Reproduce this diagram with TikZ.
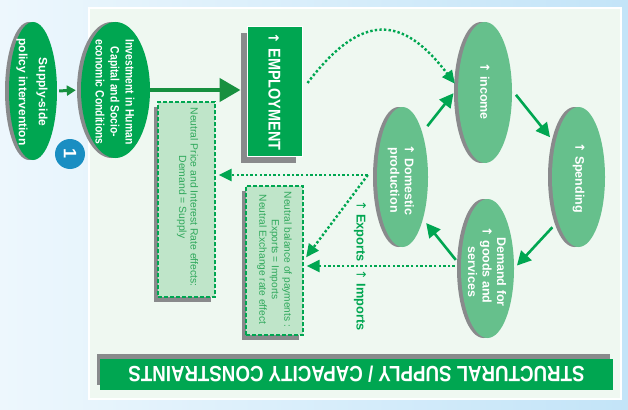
\documentclass[tikz,border=0pt]{standalone}
\usepackage{fontspec}
\setmainfont{Liberation Sans}
\newfontfamily\condfont[FakeStretch=0.85]{Liberation Sans}
\newfontfamily\arrowfont{DejaVu Sans}
\newcommand\uparr{{\arrowfont ↑}}
\usetikzlibrary{arrows.meta,shapes.geometric,shadows}

\definecolor{skyleft}{HTML}{EDF7FD}
\definecolor{skyright}{HTML}{C3E4F8}
\definecolor{panelfill}{HTML}{EFF8F1}
\definecolor{leafgreen}{HTML}{00A651}
\definecolor{deepgreen}{HTML}{17903F}
\definecolor{softgreen}{HTML}{66C08C}
\definecolor{boxfill}{HTML}{BFE5C9}
\definecolor{boxtext}{HTML}{30A85C}
\definecolor{shadowgray}{HTML}{898A8C}
\definecolor{badgeblue}{HTML}{1A8EC2}

\begin{document}
\begin{tikzpicture}[x=1pt,y=-1pt,
  gray shadow/.style 2 args={drop shadow={shadow xshift=#1, shadow yshift=#2, fill=shadowgray, opacity=1}},
  oval/.style={ellipse, inner sep=0pt, gray shadow={-4pt}{0pt}},
  darkoval/.style={oval, fill=leafgreen},
  softoval/.style={oval, fill=softgreen},
  ovaltext/.style={rotate=-90, align=center, text=white, inner sep=0pt, font=\bfseries\fontsize{12.5}{14.5}\selectfont},
  dashbox/.style={rectangle, inner sep=0pt, fill=boxfill, draw=leafgreen, line width=1.4pt, dash pattern=on 4pt off 2pt},
  boxtextstyle/.style={rotate=-90, align=center, text=boxtext, inner sep=0pt},
  solidarrow/.style={leafgreen, line width=2.6pt, -{Triangle[length=14pt,width=14pt]}},
  dotarrow/.style={leafgreen, line width=2.4pt, dash pattern=on 2.4pt off 2.2pt, -{Triangle[length=13pt,width=12pt]}},
  flowlabel/.style={rotate=-90, text=leafgreen, inner sep=0pt, font=\bfseries\fontsize{12.8}{14}\selectfont}
]
\useasboundingbox (0,0) rectangle (628,409);

% backdrop and inner panel
\shade[left color=skyleft, right color=skyright] (0,0) rectangle (628,409);
\fill[panelfill] (89,8) rectangle (621,399);
\draw[white, line width=1.2pt] (89,8) rectangle (621,399);

% bottom banner, its caption set upside down
\node[rectangle, inner sep=0pt, fill=leafgreen, minimum width=513pt, minimum height=31.5pt, gray shadow={-3pt}{5pt}, text=white, font=\condfont\bfseries\fontsize{22}{22}\selectfont] (banner) at (356.5,374.25) {\rotatebox{180}{STRUCTURAL SUPPLY / CAPACITY CONSTRAINTS}};

% policy side
\node[darkoval, minimum width=48pt, minimum height=138pt] (supply) at (33,91) {};
\node[ovaltext, font=\bfseries\fontsize{12}{20}\selectfont] (supply-text) at (32,92) {Supply-side\\policy intervention};

\node[darkoval, minimum width=69pt, minimum height=136pt] (invest) at (115.5,90) {};
\node[ovaltext, font=\condfont\bfseries\fontsize{12.2}{15}\selectfont] (invest-text) at (115,92) {Investment in Human\\Capital and Socio-\\economic Conditions};

\node[circle, fill=badgeblue, minimum size=30pt, inner sep=0pt, text=white, rotate=-90, font=\bfseries\fontsize{18}{18}\selectfont] (badge) at (70,154) {1};

% employment
\node[rectangle, inner sep=0pt, fill=leafgreen, draw=white, line width=1pt, minimum width=55pt, minimum height=129pt, gray shadow={-6pt}{-6.5pt}] (employ) at (274.5,91.5) {};
\node[ovaltext, font=\condfont\bfseries\fontsize{17}{17}\selectfont] (employ-text) at (274.5,91.5) {{\fontsize{14}{14}\selectfont\uparr} EMPLOYMENT};

% neutral-effect boxes
\node[dashbox, minimum width=57pt, minimum height=195pt, gray shadow={-4pt}{-5pt}] (pricebox) at (186.5,199.5) {};
\node[boxtextstyle, font=\fontsize{10.4}{11.5}\selectfont] (price-text) at (187.5,197) {Neutral Price and Interest Rate effects:\\Demand = Supply};

\node[dashbox, minimum width=57pt, minimum height=149pt, gray shadow={-4pt}{-5pt}] (balbox) at (274.5,260.5) {};
\node[boxtextstyle, font=\fontsize{10.2}{12.5}\selectfont] (bal-text) at (274.5,259.5) {Neutral balance of payments :\\Exports = Imports\\Neutral Exchange rate effect};

% circular flow
\node[softoval, minimum width=54pt, minimum height=141pt] (income) at (485,92.5) {};
\node[ovaltext] (income-text) at (485,91) {\uparr\ income};

\node[softoval, minimum width=53pt, minimum height=140pt] (spending) at (578.5,177) {};
\node[ovaltext] (spending-text) at (578.5,177.5) {\uparr\ Spending};

\node[softoval, minimum width=53pt, minimum height=139pt] (demand) at (487.5,268.5) {};
\node[ovaltext] (demand-text) at (487,272) {Demand for\\\llap{\uparr\ }goods and\\services};

\node[softoval, minimum width=51pt, minimum height=140pt] (domestic) at (402.5,177) {};
\node[ovaltext] (domestic-text) at (401,180) {\uparr\ Domestic\\production};

% trade labels
\node[flowlabel] (exports) at (360,231) {{\mdseries\uparr} Exports};
\node[flowlabel] (imports) at (360,300) {{\mdseries\uparr} Imports};

% connectors
\draw[deepgreen, line width=3pt, -{Triangle[length=9pt,width=10pt]}, shorten <=2pt, shorten >=5pt] (supply.east) -- (invest.west);
\draw[deepgreen, line width=4.5pt, -{Triangle[length=21pt,width=23pt]}, shorten >=6pt] (invest.east) -- (invest.east -| employ.west);

\draw[dotarrow, shorten >=5pt] ([xshift=5pt,yshift=8.5pt]employ.east) .. controls +(54.6,-72) and +(-54.6,-72) .. (income.170);

\draw[solidarrow, shorten <=8pt, shorten >=7pt] (domestic.66) -- (income.170);
\draw[solidarrow, shorten <=6pt, shorten >=8pt] (income.5) -- (spending.125);
\draw[solidarrow, shorten <=8pt, shorten >=4pt] (spending.-115) -- (demand.east);
\draw[solidarrow, shorten <=8pt, shorten >=5pt] (demand.175) -- (domestic.-64);

\coordinate (fork) at ([xshift=-9pt,yshift=2pt]domestic.west);
\coordinate (demand-out) at ([yshift=2.5pt]demand.west);
\draw[dotarrow, shorten >=3pt] (fork) -- (fork -| pricebox.east);
\draw[dotarrow, shorten >=4pt] (fork) -- (balbox.east);
\draw[dotarrow, shorten <=6pt, shorten >=3pt] (demand-out) -- (demand-out -| balbox.east);
\end{tikzpicture}
\end{document}
